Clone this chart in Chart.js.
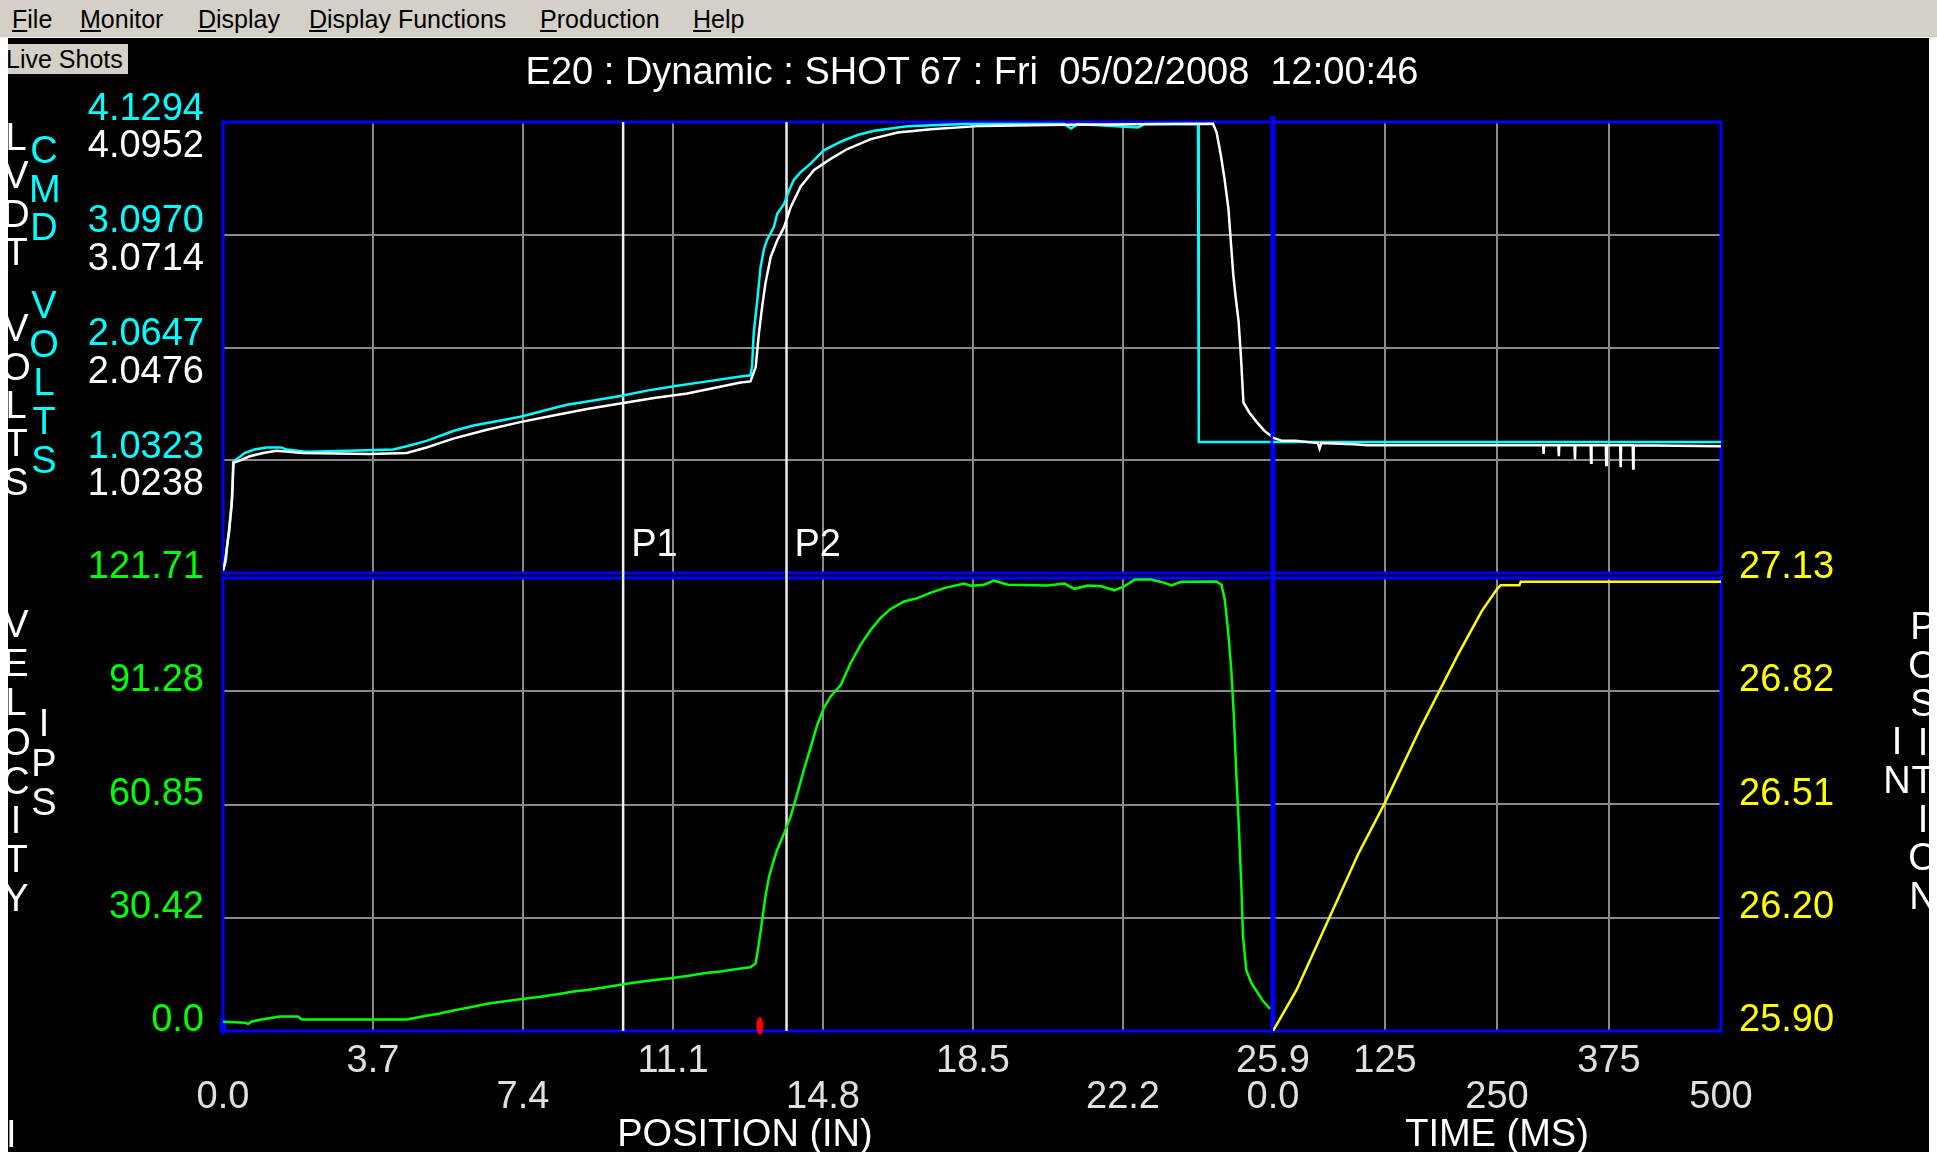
<!DOCTYPE html>
<html>
<head>
<meta charset="utf-8">
<title>E20 Dynamic Shot 67</title>
<script src="https://cdn.jsdelivr.net/npm/chart.js@4.4.1/dist/chart.umd.min.js"></script>
<style>
  html, body { margin: 0; padding: 0; }
  body { width: 1937px; height: 1152px; position: relative; overflow: hidden; background: #fff;
         font-family: "Liberation Sans", Arial, sans-serif; }
  #menu { position: absolute; left: 0; top: 0; width: 1937px; height: 37px; background: #d4d0c8; border-bottom: 1px solid #f4f4f4; }
  #menu span { position: absolute; top: 5px; font-size: 25px; line-height: 28px; color: #000; white-space: pre; }
  #screen { position: absolute; left: 8px; top: 38px; width: 1921px; height: 1114px; background: #000; }
  #live { position: absolute; left: 8px; top: 44px; width: 120px; height: 30px; background: #d4d0c8; overflow: hidden; z-index: 3; }
  #live span { position: absolute; left: -2px; top: 0; font-size: 25px; line-height: 30px; color: #000; white-space: pre; }
  canvas { position: absolute; left: 0; top: 0; z-index: 2; }
  .txt { position: absolute; font-size: 38px; line-height: 38px; white-space: pre; color: #fff; z-index: 3; }
  .col { position: absolute; width: 30px; font-size: 38px; text-align: center; white-space: pre; z-index: 3; }
  .edge { position: absolute; top: 38px; height: 1114px; background: #fff; z-index: 5; }
</style>
</head>
<body>
<div id="menu">
  <span style="left:12px"><u>F</u>ile</span>
  <span style="left:80px"><u>M</u>onitor</span>
  <span style="left:198px"><u>D</u>isplay</span>
  <span style="left:309px"><u>D</u>isplay Functions</span>
  <span style="left:540px"><u>P</u>roduction</span>
  <span style="left:693px"><u>H</u>elp</span>
</div>
<div id="screen"></div>
<div id="live"><span>Live Shots</span></div>
<div class="txt" style="left:0;width:1944px;text-align:center;top:52px">E20 : Dynamic : SHOT 67 : Fri  05/02/2008  12:00:46</div>

<div class="col" style="left:1px;top:118px;line-height:38.3px;color:#fff">L<br>V<br>D<br>T<br> <br>V<br>O<br>L<br>T<br>S</div>
<div class="col" style="left:29px;top:131px;line-height:38.7px;color:#00ffff">C<br>M<br>D<br> <br>V<br>O<br>L<br>T<br>S</div>
<div class="col" style="left:1px;top:605px;line-height:39.2px;color:#fff">V<br>E<br>L<br>O<br>C<br>I<br>T<br>Y</div>
<div class="col" style="left:29px;top:704px;line-height:39.5px;color:#fff">I<br>P<br>S</div>
<div class="col" style="left:1908px;top:607px;line-height:38.5px;color:#fff">P<br>O<br>S<br>I<br>T<br>I<br>O<br>N</div>
<div class="col" style="left:1882px;top:722px;line-height:38.5px;color:#fff">I<br>N</div>

<div class="txt" style="left:0;width:1490px;text-align:center;top:1114px">POSITION (IN)</div>
<div class="txt" style="left:1300px;width:394px;text-align:center;top:1114px">TIME (MS)</div>
<div class="txt" style="left:6px;top:1115px">I</div>

<canvas id="ul" width="1937" height="1152"></canvas>
<canvas id="ur" width="1937" height="1152"></canvas>
<canvas id="ll" width="1937" height="1152"></canvas>
<canvas id="lr" width="1937" height="1152"></canvas>

<div class="edge" style="left:0;width:8px"></div>
<div class="edge" style="left:1929px;width:8px"></div>

<script>
// tick values and labels
const posTicks = [0, 3.7, 7.4, 11.1, 14.8, 18.5, 22.2, 25.9];
const posLabels = ['0.0', '3.7', '7.4', '11.1', '14.8', '18.5', '22.2', '25.9'];
const timeTicks = [0, 125, 250, 375, 500];
const timeLabels = ['0.0', '125', '250', '375', '500'];
const cmdTicks = [0, 1.03235, 2.0647, 3.09705, 4.1294];
const cmdLabels = ['', '1.0323', '2.0647', '3.0970', '4.1294'];
const lvdtTicks = [0, 1.0238, 2.0476, 3.0714, 4.0952];
const lvdtLabels = ['', '1.0238', '2.0476', '3.0714', '4.0952'];
const velTicks = [0, 30.4275, 60.855, 91.2825, 121.71];
const velLabels = ['0.0', '30.42', '60.85', '91.28', '121.71'];
const inchTicks = [25.90, 26.2075, 26.515, 26.8225, 27.13];
const inchLabels = ['25.90', '26.20', '26.51', '26.82', '27.13'];

// CMD volts (cyan) against position
const cmdPos = [0, 0.07, 0.10, 0.15, 0.18, 0.23, 0.25, 0.37, 0.54, 0.78, 1.07, 1.44, 1.57, 2.06, 3.09, 4.20,
  4.53, 5.02, 5.68, 6.18, 6.92, 7.33, 7.74, 8.48, 9.14, 9.80, 10.46, 11.12, 11.86, 12.77, 13.01, 13.05, 13.09,
  13.18, 13.26, 13.34, 13.42, 13.59, 13.67, 13.84, 13.96, 14.08, 14.25, 14.50, 14.82, 15.24, 15.65, 16.06,
  16.88, 18.28, 20.75, 20.92, 21.08, 22.57, 22.73, 24.05, 24.07, 25.9];
const cmdPosVolts = [0.03, 0.11, 0.24, 0.37, 0.52, 0.70, 1.02, 1.05, 1.10, 1.13, 1.15, 1.15, 1.13, 1.11, 1.12, 1.13,
  1.16, 1.21, 1.30, 1.35, 1.40, 1.43, 1.47, 1.54, 1.58, 1.62, 1.67, 1.71, 1.75, 1.80, 1.81, 1.89, 2.19,
  2.50, 2.80, 2.96, 3.05, 3.17, 3.29, 3.38, 3.50, 3.60, 3.67, 3.75, 3.87, 3.95, 4.01, 4.05,
  4.09, 4.11, 4.11, 4.07, 4.11, 4.08, 4.11, 4.11, 1.20, 1.20];
// LVDT volts (white) against position
const lvdtPos = [0, 0.04, 0.08, 0.12, 0.16, 0.21, 0.26, 0.41, 0.66, 0.99, 1.32, 1.98, 3.62, 4.53, 5.02, 5.68,
  6.51, 7.33, 8.15, 8.98, 9.80, 10.63, 11.45, 12.77, 13.01, 13.14, 13.22, 13.30, 13.38, 13.51, 13.67, 13.84,
  14.00, 14.25, 14.58, 14.99, 15.40, 15.98, 16.64, 17.46, 18.70, 20.75, 24.42, 24.51, 24.61, 24.70, 24.80,
  24.86, 24.92, 24.98, 25.05, 25.11, 25.17, 25.31, 25.50, 25.69, 25.83, 25.9];
const lvdtPosVolts = [0.02, 0.08, 0.18, 0.30, 0.42, 0.60, 1.00, 1.02, 1.06, 1.09, 1.11, 1.09, 1.08, 1.09, 1.14, 1.22,
  1.30, 1.37, 1.43, 1.49, 1.54, 1.59, 1.63, 1.73, 1.74, 1.87, 2.18, 2.42, 2.63, 2.87, 3.02, 3.14,
  3.32, 3.51, 3.66, 3.76, 3.85, 3.94, 4.00, 4.03, 4.06, 4.07, 4.08, 4.00, 3.80, 3.59, 3.31,
  3.01, 2.71, 2.50, 2.29, 1.96, 1.55, 1.46, 1.37, 1.29, 1.25, 1.23];

// volts against time
const cmdTime = [0, 500];
const cmdTimeVolts = [1.20, 1.20];
const lvdtTime = [0, 3, 10, 25, 50, 52, 54, 90, 106, 301.5, 302, 302.5, 318.5, 319, 319.5, 336.5, 337, 337.5,
  354.5, 355, 355.5, 371.5, 372, 372.5, 387.5, 388, 388.5, 401.5, 402, 402.5, 500];
const lvdtTimeVolts = [1.23, 1.22, 1.20, 1.20, 1.18, 1.13, 1.18, 1.17, 1.16, 1.16, 1.08, 1.16, 1.16, 1.06, 1.16,
  1.16, 1.03, 1.16, 1.16, 1.00, 1.16, 1.16, 0.98, 1.16, 1.16, 0.96, 1.16, 1.16, 0.95, 1.16, 1.15];

// velocity (green) against position
const velPos = [0, 0.54, 0.62, 0.70, 0.91, 1.40, 1.85, 1.94, 4.53, 5.02, 5.35, 5.68, 6.10, 6.51, 6.92, 7.33,
  7.83, 8.24, 8.65, 8.98, 9.39, 9.80, 10.21, 10.63, 11.04, 11.45, 11.86, 12.27, 12.77, 13.01, 13.14, 13.22,
  13.30, 13.38, 13.47, 13.55, 13.67, 13.84, 14.00, 14.17, 14.33, 14.50, 14.66, 14.82, 14.99, 15.24, 15.48,
  15.73, 15.98, 16.22, 16.47, 16.80, 17.13, 17.46, 17.79, 18.28, 18.45, 18.78, 19.01, 19.36, 20.34, 20.76,
  21.00, 21.33, 21.66, 21.99, 22.24, 22.49, 22.89, 23.23, 23.39, 23.64, 24.50, 24.63, 24.71, 24.79, 24.87,
  24.94, 24.99, 25.05, 25.12, 25.16, 25.24, 25.37, 25.49, 25.65, 25.83];
const velIps = [2.5, 2.2, 1.9, 2.5, 3.0, 3.9, 3.9, 3.1, 3.1, 4.1, 4.7, 5.5, 6.4, 7.3, 7.9, 8.5,
  9.2, 9.9, 10.6, 11.0, 11.7, 12.4, 13.1, 13.7, 14.2, 14.8, 15.5, 16.0, 16.8, 17.1, 18.2, 23.6,
  29.8, 36.1, 41.5, 44.6, 48.7, 53.1, 57.6, 63.9, 70.2, 76.4, 82.3, 86.8, 89.9, 93.0, 98.8,
  103.8, 107.8, 111.0, 113.4, 115.4, 116.3, 117.8, 119.0, 120.2, 119.6, 119.9, 121.0, 119.9, 119.7, 120.2,
  118.8, 119.7, 119.5, 118.4, 119.5, 121.3, 121.3, 120.4, 119.7, 120.7, 120.8, 119.9, 115.9, 107.8, 97.1,
  83.6, 70.2, 56.7, 38.8, 25.4, 16.4, 12.8, 10.8, 8.1, 5.9];

// position (yellow) against time
const posTime = [0, 26, 54, 95, 125, 164, 206, 233, 250, 254, 275, 276.5, 500];
const posInches = [25.90, 26.01, 26.16, 26.38, 26.52, 26.72, 26.92, 27.04, 27.10, 27.11, 27.11, 27.12, 27.12];

// markers
const pNames = ['P1', 'P2'];
const pPositions = [9.87, 13.90];
const shotMarkPos = 13.24;
const startMarkPos = 0;
const markVel = 1.4;

const FONT_FAMILY = '"Liberation Sans", Arial, sans-serif';
Chart.defaults.font.family = FONT_FAMILY;
Chart.defaults.font.size = 38;

const W = 1937, H = 1152;
const PL = 223, PS = 1273, PR = 1721;
const UT = 122, UB = 573, LT = 578, LB = 1031;
const GRID = '#8a8a8a';
const CYAN = '#00ffff', GREEN = '#00ff00', YELLOW = '#ffff00';

const measure = document.createElement('canvas').getContext('2d');
measure.font = '38px ' + FONT_FAMILY;
const lvdtWidest = Math.max(...lvdtLabels.map(l => measure.measureText(l).width));

const pts = (xs, ys) => xs.map((x, i) => ({ x, y: ys[i] }));
const fixTicks = vals => s => { s.ticks = vals.map(v => ({ value: v })); };

function xAxis(min, max, vals, labels, height) {
    return {
        type: 'linear', min, max,
        afterBuildTicks: fixTicks(vals),
        afterFit: s => { s.height = height; },
        grid: { color: GRID, lineWidth: 2, drawTicks: false },
        border: { display: false },
        ticks: {
            display: !!labels, autoSkip: false, maxRotation: 0, minRotation: 0,
            color: '#e0e0e0', padding: 12.5, font: { size: 38, lineHeight: 0.947 },
            callback: (v, i) => labels ? (i % 2 ? [labels[i]] : ['', labels[i]]) : ''
        }
    };
}

function yAxis(o) {
    return {
        type: 'linear', position: o.position, min: o.min, max: o.max, weight: o.weight || 0,
        afterBuildTicks: fixTicks(o.vals),
        afterFit: s => { s.width = o.width || 0; },
        grid: { display: !!o.grid, color: GRID, lineWidth: 2, drawTicks: false },
        border: { display: false },
        ticks: {
            display: !!o.labels, autoSkip: false, color: o.color, padding: o.padding,
            mirror: !!o.mirror, crossAlign: o.mirror ? 'far' : 'near',
            font: { size: 38, lineHeight: o.lineHeight || 1 },
            callback: (v, i) => o.labels ? (o.above ? [o.labels[i], ''] : ['', o.labels[i]]) : ''
        }
    };
}

function lineSet(label, data, color, axis) {
    return { label, data, yAxisID: axis, borderColor: color, borderWidth: 2.5, pointRadius: 0, tension: 0, fill: false };
}

function ellipseMark(color) {
    const c = document.createElement('canvas');
    c.width = 8; c.height = 20;
    const g = c.getContext('2d');
    g.fillStyle = color;
    g.beginPath();
    g.ellipse(4, 10, 3.5, 9, 0, 0, Math.PI * 2);
    g.fill();
    return c;
}

function markSet(label, xv, color) {
    return { label, data: [{ x: xv, y: markVel }], yAxisID: 'yV', showLine: false, pointStyle: ellipseMark(color),
        pointRadius: 6, clip: false, borderColor: color, backgroundColor: color };
}

const framePlugin = {
    id: 'frame',
    beforeDatasetsDraw(chart, args, opts) {
        const { ctx, chartArea: a } = chart;
        ctx.save();
        ctx.strokeStyle = '#0000ff';
        ctx.lineWidth = 3;
        ctx.strokeRect(a.left, a.top, a.right - a.left, a.bottom - a.top);
        if (opts.thickLeft) {
            ctx.lineWidth = 5;
            ctx.beginPath();
            ctx.moveTo(a.left, a.top - 6);
            ctx.lineTo(a.left, a.bottom);
            ctx.stroke();
        }
        ctx.restore();
    }
};

const pLinePlugin = {
    id: 'plines',
    beforeDatasetsDraw(chart, args, opts) {
        const { ctx, chartArea: a, scales: { x } } = chart;
        ctx.save();
        ctx.strokeStyle = '#eeeeee';
        ctx.lineWidth = 2.5;
        ctx.fillStyle = '#ffffff';
        ctx.font = '38px ' + FONT_FAMILY;
        ctx.textAlign = 'left';
        ctx.textBaseline = 'middle';
        pPositions.forEach((p, i) => {
            const px = x.getPixelForValue(p);
            ctx.beginPath();
            ctx.moveTo(px, a.top - (opts.extendTop || 0));
            ctx.lineTo(px, a.bottom);
            ctx.stroke();
            if (opts.labels) ctx.fillText(pNames[i], px + 8, a.bottom - 27);
        });
        ctx.restore();
    }
};

function makeChart(id, padding, scales, datasets, pluginOpts, extraPlugins) {
    return new Chart(document.getElementById(id), {
        type: 'line',
        data: { datasets },
        options: {
            responsive: false, animation: false, events: [],
            layout: { padding },
            plugins: Object.assign({ legend: { display: false }, tooltip: { enabled: false } }, pluginOpts),
            scales
        },
        plugins: [framePlugin].concat(extraPlugins || [])
    });
}

// upper left: volts vs position
makeChart('ul', { left: 0, top: UT, right: W - PS, bottom: H - UB }, {
    x: xAxis(0, 25.9, posTicks, null, 0),
    yC: yAxis({ position: 'left', min: 0, max: 4.1294, vals: cmdTicks, labels: cmdLabels, color: CYAN,
        grid: true, lineHeight: 0.68, above: true, width: PL, padding: 19, weight: 2 }),
    yW: yAxis({ position: 'left', min: 0, max: 4.0952, vals: lvdtTicks, labels: lvdtLabels, color: '#ffffff',
        lineHeight: 1.3, above: false, width: 0, mirror: true, padding: -19 - lvdtWidest, weight: 1 })
}, [
    lineSet('LVDT VOLTS', pts(lvdtPos, lvdtPosVolts), '#ffffff', 'yW'),
    lineSet('CMD VOLTS', pts(cmdPos, cmdPosVolts), CYAN, 'yC')
], { plines: { labels: true } }, [pLinePlugin]);

// upper right: volts vs time
makeChart('ur', { left: PS, top: UT, right: W - PR, bottom: H - UB }, {
    x: xAxis(0, 500, timeTicks, null, 0),
    yC: yAxis({ position: 'left', min: 0, max: 4.1294, vals: cmdTicks, grid: true }),
    yW: yAxis({ position: 'left', min: 0, max: 4.0952, vals: lvdtTicks })
}, [
    lineSet('LVDT VOLTS', pts(lvdtTime, lvdtTimeVolts), '#ffffff', 'yW'),
    lineSet('CMD VOLTS', pts(cmdTime, cmdTimeVolts), CYAN, 'yC')
], { frame: { thickLeft: true } });

// lower left: velocity vs position
makeChart('ll', { left: 0, top: LT, right: W - PS, bottom: 0 }, {
    x: xAxis(0, 25.9, posTicks, posLabels, H - LB),
    yV: yAxis({ position: 'left', min: 0, max: 121.71, vals: velTicks, labels: velLabels, color: GREEN,
        grid: true, lineHeight: 0.55, above: true, width: PL, padding: 19 })
}, [
    lineSet('VELOCITY IPS', pts(velPos, velIps), GREEN, 'yV'),
    markSet('shot marker', shotMarkPos, '#ff0000'),
    markSet('start marker', startMarkPos, '#0000ff')
], { plines: { extendTop: 6 } }, [pLinePlugin]);

// lower right: position vs time
makeChart('lr', { left: PS, top: LT, right: 0, bottom: 0 }, {
    x: xAxis(0, 500, timeTicks, timeLabels, H - LB),
    yP: yAxis({ position: 'right', min: 25.90, max: 27.13, vals: inchTicks, labels: inchLabels, color: YELLOW,
        grid: true, lineHeight: 0.55, above: true, width: W - PR, padding: 18 })
}, [
    lineSet('POSITION IN', pts(posTime, posInches), YELLOW, 'yP')
], { frame: { thickLeft: true } });
</script>
</body>
</html>
